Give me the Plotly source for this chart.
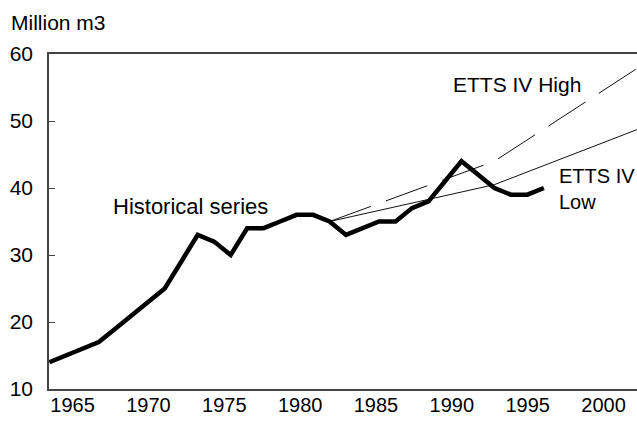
import plotly.graph_objects as go

# historical removals, one value per year
hist_years = list(range(1963, 1994))
hist_values = [14, 15, 16, 17, 19, 21, 23, 25, 29, 33, 32, 30, 34, 34, 35, 36,
               36, 35, 33, 34, 35, 35, 37, 38, 41, 44, 42, 40, 39, 39, 40]

# ETTS IV projections
proj_years = [1980, 1990, 2000]
high_values = [35, 44, 60]
low_values = [35, 40.5, 50]

year_ticks = [1965, 1970, 1975, 1980, 1985, 1990, 1995, 2000]
value_ticks = [10, 20, 30, 40, 50, 60]

font = "Liberation Sans, Arial, sans-serif"

fig = go.Figure()

# empty trace so the labelled year axis gets drawn
fig.add_trace(
    go.Scatter(
        x=year_ticks,
        y=[None] * len(year_ticks),
        mode="lines",
        hoverinfo="skip",
        showlegend=False,
    )
)
fig.add_trace(
    go.Scatter(
        x=proj_years,
        y=high_values,
        mode="lines",
        line=dict(color="#111111", width=1, dash="44px,16px"),
        xaxis="x2",
        showlegend=False,
    )
)
fig.add_trace(
    go.Scatter(
        x=proj_years,
        y=low_values,
        mode="lines",
        line=dict(color="#111111", width=1),
        xaxis="x2",
        showlegend=False,
    )
)
fig.add_trace(
    go.Scatter(
        x=hist_years,
        y=hist_values,
        mode="lines",
        line=dict(color="black", width=4.5),
        xaxis="x2",
        showlegend=False,
    )
)

fig.update_layout(
    width=637,
    height=421,
    margin=dict(l=49, r=0, t=54, b=32),
    paper_bgcolor="white",
    plot_bgcolor="white",
    font=dict(family=font, size=20, color="black"),
    xaxis=dict(
        range=[1963.45, 2002.2],
        tickvals=year_ticks,
        showline=True,
        mirror=True,
        linecolor="#444444",
        linewidth=1.5,
        showgrid=False,
        zeroline=False,
        ticks="",
        ticklabelstandoff=-3,
        automargin=False,
        tickfont=dict(size=20),
    ),
    xaxis2=dict(
        range=[1962.98, 1998.65],
        overlaying="x",
        anchor="y",
        visible=False,
    ),
    yaxis=dict(
        range=[10, 60],
        tickvals=value_ticks,
        showline=True,
        linecolor="#444444",
        linewidth=1.5,
        showgrid=False,
        zeroline=False,
        ticks="inside",
        ticklen=6,
        tickcolor="#444444",
        ticklabelstandoff=10,
        automargin=False,
        tickfont=dict(size=21),
    ),
    annotations=[
        dict(text="Million m3", xref="paper", yref="paper", x=-0.068, y=1.0955,
             xanchor="left", yanchor="middle", showarrow=False, font=dict(size=21)),
        dict(text="Historical series", x=1972.8, y=37.3, showarrow=False,
             xanchor="center", yanchor="middle", font=dict(size=22)),
        dict(text="ETTS IV High", x=1994.3, y=55.4, showarrow=False,
             xanchor="center", yanchor="middle", font=dict(size=21)),
        dict(text="ETTS IV<br>Low", x=1996.95, y=39.85, showarrow=False,
             xanchor="left", yanchor="middle", align="left", font=dict(size=20)),
    ],
)

fig.write_html(
    "out.html",
    config={"displayModeBar": False},
    post_script="document.body.style.margin='0';",
)
